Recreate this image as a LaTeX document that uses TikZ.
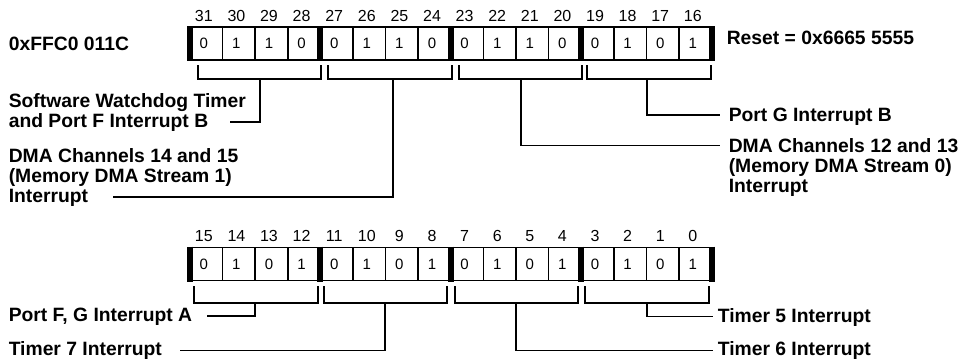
\documentclass[tikz,border=0pt]{standalone}
\usepackage{fontspec}
\setmainfont{Liberation Sans}

\begin{document}
\begin{tikzpicture}[x=1pt, y=-1pt, line width=1.6pt]
    \useasboundingbox (0,0) rectangle (959,360);

    \tikzset{
        cell/.style = {shape=rectangle, draw, minimum width=32.6pt, minimum height=33pt,
                       inner sep=0pt, outer sep=0pt, font=\fontsize{15}{16}\selectfont},
        bitno/.style = {inner sep=0pt, anchor=base, font=\fontsize{16}{17}\selectfont},
        lbl/.style = {inner sep=0pt, align=left, font=\bfseries\fontsize{19.3}{20}\selectfont},
        nib/.style = {line width=6pt, shorten <=-1pt, shorten >=-1pt},
    }

    % cells of the register, bits 31..16 on top, 15..0 below
    \foreach \i/\tv/\bv in {0/0/0, 1/1/1, 2/1/0, 3/0/1, 4/0/0, 5/1/1, 6/1/0, 7/0/1,
                            8/0/0, 9/1/1, 10/1/0, 11/0/1, 12/0/0, 13/1/1, 14/0/0, 15/1/1} {
        \pgfmathtruncatemacro{\hi}{31-\i}
        \pgfmathtruncatemacro{\lo}{15-\i}
        \node[cell] (t\hi) at ({190+32.6*(\i+0.5)}, 43.5) {\kern-5pt\tv};
        \node[cell] (b\lo) at ({190+32.6*(\i+0.5)}, 264) {\kern-5pt\bv};
        \node[bitno] (nt\hi) at ({190+32.6*(\i+0.5)-2.5}, 21.5) {\hi};
        \node[bitno] (nb\lo) at ({190+32.6*(\i+0.5)-2.5}, 241.5) {\lo};
    }

    % nibble bars
    \draw[nib] (t31.north west) -- (t31.south west);
    \draw[nib] (t27.north west) -- (t27.south west);
    \draw[nib] (t23.north west) -- (t23.south west);
    \draw[nib] (t19.north west) -- (t19.south west);
    \draw[nib] (t16.north east) -- (t16.south east);
    \draw[nib] (b15.north west) -- (b15.south west);
    \draw[nib] (b11.north west) -- (b11.south west);
    \draw[nib] (b7.north west) -- (b7.south west);
    \draw[nib] (b3.north west) -- (b3.south west);
    \draw[nib] (b0.north east) -- (b0.south east);

    \node[lbl, anchor=base west] (addr) at (8,50) {0xFFC0 011C};
    \node[lbl, anchor=base west] (reset) at (726,44) {Reset = 0x6665 5555};

    \node[lbl, anchor=north west] (swd) at (8,93) {Software Watchdog Timer\\and Port F Interrupt B};
    \node[lbl, anchor=north west] (dma14) at (8,148) {DMA Channels 14 and 15\\(Memory DMA Stream 1)\\Interrupt};
    \node[lbl, anchor=base west] (portgb) at (728,121) {Port G Interrupt B};
    \node[lbl, anchor=north west] (dma12) at (728,137.4) {DMA Channels 12 and 13\\(Memory DMA Stream 0)\\Interrupt};
    \node[lbl, anchor=base west] (portfga) at (8,321.5) {Port F, G Interrupt A};
    \node[lbl, anchor=base west] (tmr7) at (8,355.5) {Timer 7 Interrupt};
    \node[lbl, anchor=base west] (tmr5) at (717,322) {Timer 5 Interrupt};
    \node[lbl, anchor=base west] (tmr6) at (717,355.5) {Timer 6 Interrupt};

    % brackets under each nibble
    \draw (198,65) -- (198,79) -- (321,79) -- (321,65);
    \draw (328,65) -- (328,79) -- (452,79) -- (452,65);
    \draw (459,65) -- (459,79) -- (582,79) -- (582,65);
    \draw (587,65) -- (587,79) -- (711,79) -- (711,65);
    \draw (194,286) -- (194,303) -- (318,303) -- (318,286);
    \draw (324,286) -- (324,303) -- (447,303) -- (447,286);
    \draw (455,286) -- (455,303) -- (578,303) -- (578,286);
    \draw (585,286) -- (585,303) -- (709,303) -- (709,286);

    \coordinate (k1) at (260,79);   \coordinate (e1) at (230,121.7);
    \coordinate (k2) at (393,79);   \coordinate (e2) at (113,197);
    \coordinate (k3) at (521,79);   \coordinate (e3) at (720,145.5);
    \coordinate (k4) at (647,79);   \coordinate (e4) at (720,115);
    \coordinate (m1) at (255,303);  \coordinate (f1) at (207,315.7);
    \coordinate (m2) at (385,303);  \coordinate (f2) at (180,350.5);
    \coordinate (m3) at (516,303);  \coordinate (f3) at (713,350.5);
    \coordinate (m4) at (647,303);  \coordinate (f4) at (713,316.5);

    \draw (k1) |- (e1);
    \draw (k2) |- (e2);
    \draw (k3) |- (e3);
    \draw (k4) |- (e4);
    \draw (m1) |- (f1);
    \draw (m2) |- (f2);
    \draw (m3) |- (f3);
    \draw (m4) |- (f4);

\end{tikzpicture}
\end{document}
